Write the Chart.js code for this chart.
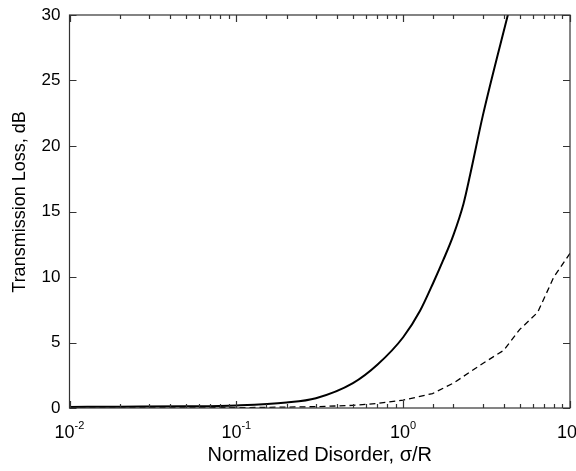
<!DOCTYPE html>
<html>
<head>
<meta charset="utf-8">
<script src="https://cdn.jsdelivr.net/npm/chart.js@4"></script>
<style>
  html, body { margin: 0; padding: 0; background: #fff; }
  #wrap { width: 576px; height: 471px; }
</style>
</head>
<body>
<div id="wrap"><canvas id="myChart"></canvas></div>
<script>
// solid curve
const solidX = [0.01, 0.02, 0.05, 0.1, 0.2, 0.3, 0.5, 0.7, 1, 1.26, 1.52, 1.74, 2, 2.3, 2.52, 3, 4.24, 5];
const solidY = [0.08, 0.1, 0.13, 0.2, 0.42, 0.75, 1.9, 3.3, 5.4, 7.4, 9.6, 11.3, 13.2, 15.6, 17.8, 22.3, 30, 33.6];

// dashed curve
const dashX = [0.01, 0.1, 0.3, 0.5, 0.7, 1, 1.5, 2, 3, 4, 5, 6.4, 8, 10];
const dashY = [0.0, 0.02, 0.1, 0.2, 0.35, 0.6, 1.1, 1.9, 3.4, 4.4, 6.0, 7.3, 10.0, 11.8];

const yTicks = [0, 5, 10, 15, 20, 25, 30];
const xDecades = [-2, -1, 0, 1];

const font = 'Liberation Sans, Arial, Helvetica, sans-serif';
const frameColor = '#333';

let toPoints = (xs, ys) => xs.map((x, i) => ({ x: x, y: ys[i] }));

// frame, inward ticks, the 10^n labels and the y title
const axisDeco = {
    id: 'axisDeco',
    afterDraw(chart) {
        const ctx = chart.ctx;
        const a = chart.chartArea;
        const xs = chart.scales.x;
        const ys = chart.scales.y;
        ctx.save();
        ctx.strokeStyle = frameColor;
        ctx.lineWidth = 1.2;
        ctx.strokeRect(a.left, a.top, a.right - a.left, a.bottom - a.top);

        ctx.beginPath();
        xs.ticks.forEach(t => {
            const px = Math.round(xs.getPixelForValue(t.value)) + 0.5;
            const exp = Math.log10(t.value);
            const len = Math.abs(exp - Math.round(exp)) < 1e-6 ? 7 : 4;
            ctx.moveTo(px, a.bottom); ctx.lineTo(px, a.bottom - len);
            ctx.moveTo(px, a.top); ctx.lineTo(px, a.top + len);
        });
        yTicks.forEach(v => {
            const py = Math.round(ys.getPixelForValue(v)) + 0.5;
            ctx.moveTo(a.left, py); ctx.lineTo(a.left + 7, py);
            ctx.moveTo(a.right, py); ctx.lineTo(a.right - 7, py);
        });
        ctx.stroke();

        ctx.fillStyle = '#000';
        ctx.textBaseline = 'alphabetic';
        ctx.textAlign = 'left';
        xDecades.forEach(e => {
            const px = xs.getPixelForValue(Math.pow(10, e));
            ctx.font = '18px ' + font;
            const base = '10';
            const bw = ctx.measureText(base).width;
            ctx.font = '11px ' + font;
            const sup = String(e);
            const sw = ctx.measureText(sup).width;
            const x0 = px - (bw + sw) / 2;
            ctx.font = '18px ' + font;
            ctx.fillText(base, x0, 438);
            ctx.font = '11px ' + font;
            ctx.fillText(sup, x0 + bw, 429);
        });

        // y axis title, sitting a little above the middle as in the original
        ctx.translate(20, 202);
        ctx.rotate(-Math.PI / 2);
        ctx.textAlign = 'center';
        ctx.textBaseline = 'middle';
        ctx.font = '18px ' + font;
        ctx.fillText('Transmission Loss, dB', 0, 0);
        ctx.restore();
    }
};

new Chart(document.getElementById('myChart'), {
    type: 'line',
    data: {
        datasets: [{
            data: toPoints(solidX, solidY),
            borderColor: '#000',
            borderWidth: 2,
            pointRadius: 0,
            cubicInterpolationMode: 'monotone',
            fill: false
        }, {
            data: toPoints(dashX, dashY),
            borderColor: '#000',
            borderWidth: 1.3,
            borderDash: [6, 4],
            pointRadius: 0,
            tension: 0,
            fill: false
        }]
    },
    options: {
        responsive: true,
        maintainAspectRatio: false,
        animation: false,
        layout: {
            padding: { left: 0, right: 6, top: 15, bottom: 0 }
        },
        scales: {
            x: {
                type: 'logarithmic',
                min: 0.01,
                max: 10,
                border: { display: false },
                grid: { display: false, drawTicks: false },
                ticks: { display: false, autoSkip: false },
                afterFit: (scale) => { scale.height = 63; },
                title: {
                    display: true,
                    text: 'Normalized Disorder, \u03c3/R',
                    color: '#000',
                    font: { family: font, size: 20 },
                    padding: { top: 0, bottom: 4 }
                }
            },
            y: {
                min: 0,
                max: 30,
                border: { display: false },
                grid: { display: false, drawTicks: false },
                ticks: {
                    stepSize: 5,
                    color: '#000',
                    padding: 9,
                    font: { family: font, size: 17 }
                },
                afterFit: (scale) => {
                    scale.width = 69.5;
                    scale.paddingTop = 0;
                    scale.paddingBottom = 0;
                }
            }
        },
        plugins: {
            legend: { display: false },
            tooltip: { enabled: false }
        }
    },
    plugins: [axisDeco]
});
</script>
</body>
</html>
